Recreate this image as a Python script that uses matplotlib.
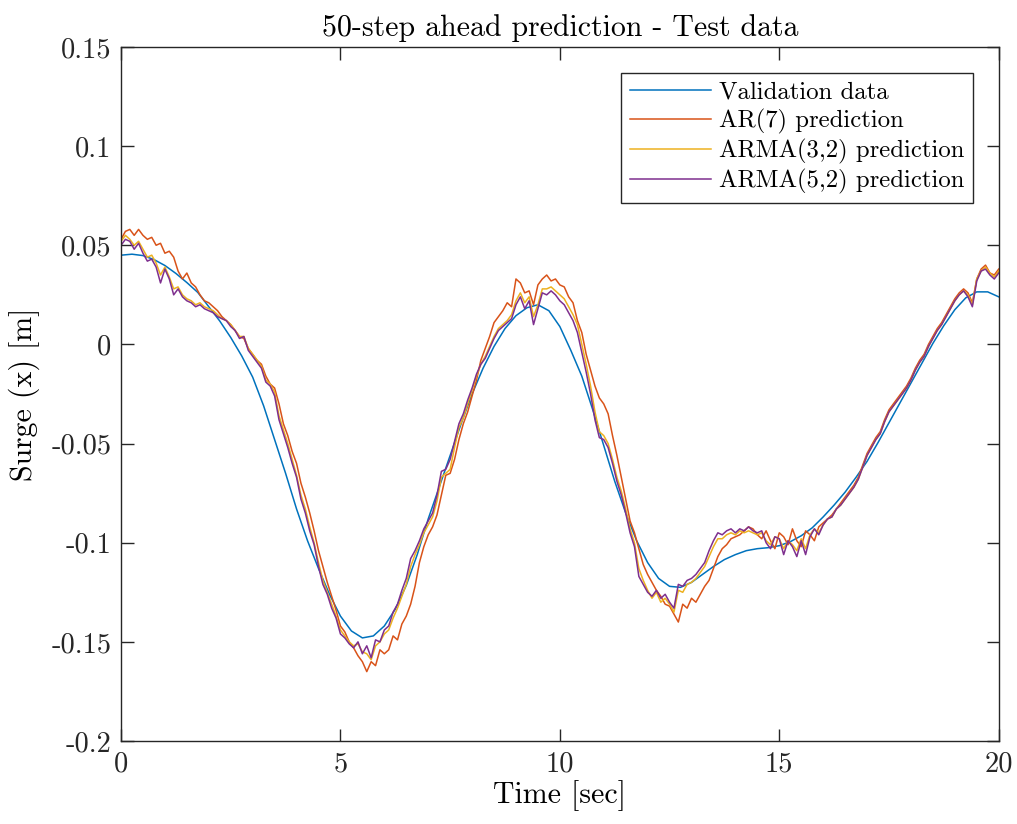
# 50-step ahead prediction plot

# Importing Python libraries

import numpy as np
import matplotlib.pyplot as plt

# Time axis for the validation data (0.25 s steps) and the predictions (0.1 s steps)

t_val = np.arange(0, 20.001, 0.25)
t_pred = np.arange(0, 20.001, 0.1)

# Validation data

validation = [
    0.0450, 0.0455, 0.0448, 0.0428, 0.0398, 0.0358, 0.0312, 0.0262, 0.0190, 0.0118,
    0.0035, -0.0058, -0.0165, -0.0310, -0.0480, -0.0650, -0.0830, -0.0990, -0.1130, -0.1260,
    -0.1370, -0.1445, -0.1480, -0.1470, -0.1420, -0.1335, -0.1215, -0.1060, -0.0880, -0.0720,
    -0.0560, -0.0400, -0.0250, -0.0120, -0.0010, 0.0080, 0.0145, 0.0185, 0.0200, 0.0170,
    0.0090, -0.0030, -0.0160, -0.0330, -0.0510, -0.0690, -0.0850, -0.0990, -0.1100, -0.1180,
    -0.1220, -0.1225, -0.1200, -0.1160, -0.1120, -0.1085, -0.1060, -0.1040, -0.1030, -0.1025,
    -0.1015, -0.0995, -0.0965, -0.0925, -0.0870, -0.0810, -0.0745, -0.0670, -0.0590, -0.0495,
    -0.0395, -0.0295, -0.0195, -0.0095, 0.0005, 0.0095, 0.0175, 0.0235, 0.0265, 0.0265,
    0.0240
]

# AR(7) prediction

ar7 = [
    0.053, 0.057, 0.058, 0.055, 0.058, 0.055, 0.053, 0.054, 0.050, 0.051,
    0.046, 0.047, 0.044, 0.037, 0.033, 0.036, 0.031, 0.029, 0.025, 0.022,
    0.021, 0.019, 0.017, 0.014, 0.012, 0.010, 0.007, 0.004, 0.003, -0.002,
    -0.005, -0.008, -0.010, -0.016, -0.020, -0.022, -0.030, -0.040, -0.046, -0.054,
    -0.060, -0.070, -0.077, -0.085, -0.094, -0.104, -0.112, -0.120, -0.127, -0.134,
    -0.142, -0.145, -0.150, -0.153, -0.157, -0.160, -0.165, -0.160, -0.162, -0.154,
    -0.156, -0.154, -0.147, -0.149, -0.141, -0.137, -0.131, -0.122, -0.110, -0.102,
    -0.096, -0.092, -0.086, -0.076, -0.066, -0.065, -0.058, -0.048, -0.040, -0.034,
    -0.026, -0.018, -0.008, -0.002, 0.004, 0.011, 0.014, 0.017, 0.021, 0.019,
    0.033, 0.031, 0.026, 0.027, 0.020, 0.030, 0.033, 0.035, 0.032, 0.033,
    0.030, 0.029, 0.024, 0.021, 0.012, 0.006, -0.005, -0.013, -0.021, -0.027,
    -0.030, -0.035, -0.046, -0.056, -0.067, -0.078, -0.089, -0.095, -0.103, -0.111,
    -0.116, -0.120, -0.124, -0.127, -0.131, -0.132, -0.136, -0.140, -0.131, -0.133,
    -0.128, -0.130, -0.126, -0.122, -0.119, -0.113, -0.107, -0.103, -0.101, -0.098,
    -0.097, -0.096, -0.094, -0.092, -0.093, -0.096, -0.098, -0.094, -0.099, -0.103,
    -0.095, -0.097, -0.101, -0.093, -0.099, -0.102, -0.094, -0.096, -0.099, -0.092,
    -0.090, -0.088, -0.086, -0.083, -0.080, -0.077, -0.074, -0.071, -0.067, -0.061,
    -0.055, -0.051, -0.047, -0.044, -0.038, -0.033, -0.030, -0.027, -0.024, -0.021,
    -0.017, -0.012, -0.008, -0.005, 0.000, 0.004, 0.008, 0.011, 0.015, 0.019,
    0.023, 0.026, 0.028, 0.026, 0.021, 0.033, 0.038, 0.040, 0.036, 0.035,
    0.038
]

# ARMA(3,2) prediction

arma32 = [
    0.052, 0.055, 0.053, 0.050, 0.052, 0.048, 0.044, 0.045, 0.041, 0.035,
    0.039, 0.034, 0.028, 0.029, 0.025, 0.023, 0.022, 0.020, 0.021, 0.019,
    0.018, 0.017, 0.015, 0.013, 0.012, 0.010, 0.007, 0.004, 0.004, -0.002,
    -0.005, -0.008, -0.011, -0.018, -0.020, -0.024, -0.036, -0.043, -0.050, -0.058,
    -0.066, -0.076, -0.083, -0.092, -0.100, -0.110, -0.119, -0.125, -0.131, -0.137,
    -0.144, -0.147, -0.150, -0.152, -0.151, -0.155, -0.156, -0.159, -0.152, -0.150,
    -0.146, -0.144, -0.138, -0.133, -0.127, -0.121, -0.112, -0.106, -0.101, -0.095,
    -0.091, -0.087, -0.079, -0.067, -0.065, -0.063, -0.052, -0.042, -0.037, -0.030,
    -0.023, -0.016, -0.010, -0.006, -0.001, 0.004, 0.008, 0.010, 0.012, 0.015,
    0.022, 0.026, 0.021, 0.024, 0.014, 0.020, 0.028, 0.028, 0.029, 0.027,
    0.025, 0.023, 0.019, 0.015, 0.010, 0.000, -0.010, -0.021, -0.034, -0.044,
    -0.046, -0.050, -0.058, -0.067, -0.074, -0.083, -0.093, -0.100, -0.113, -0.119,
    -0.124, -0.128, -0.125, -0.130, -0.128, -0.131, -0.135, -0.124, -0.125, -0.121,
    -0.120, -0.118, -0.115, -0.112, -0.107, -0.102, -0.098, -0.098, -0.096, -0.095,
    -0.096, -0.094, -0.095, -0.094, -0.095, -0.096, -0.095, -0.099, -0.101, -0.097,
    -0.098, -0.103, -0.099, -0.101, -0.104, -0.098, -0.103, -0.096, -0.093, -0.095,
    -0.091, -0.088, -0.087, -0.083, -0.081, -0.078, -0.075, -0.072, -0.068, -0.062,
    -0.056, -0.052, -0.048, -0.045, -0.039, -0.034, -0.031, -0.028, -0.025, -0.022,
    -0.018, -0.013, -0.009, -0.006, -0.001, 0.003, 0.007, 0.010, 0.014, 0.018,
    0.022, 0.025, 0.027, 0.025, 0.020, 0.033, 0.037, 0.039, 0.036, 0.034,
    0.037
]

# ARMA(5,2) prediction

arma52 = [
    0.050, 0.053, 0.052, 0.048, 0.051, 0.046, 0.042, 0.043, 0.039, 0.031,
    0.038, 0.033, 0.025, 0.028, 0.024, 0.022, 0.021, 0.019, 0.020, 0.018,
    0.017, 0.016, 0.014, 0.013, 0.012, 0.009, 0.007, 0.003, 0.004, -0.003,
    -0.006, -0.009, -0.012, -0.019, -0.021, -0.026, -0.038, -0.045, -0.052, -0.060,
    -0.067, -0.078, -0.085, -0.094, -0.101, -0.112, -0.121, -0.126, -0.133, -0.138,
    -0.146, -0.148, -0.151, -0.153, -0.150, -0.156, -0.152, -0.158, -0.149, -0.150,
    -0.144, -0.142, -0.135, -0.131, -0.124, -0.118, -0.108, -0.104, -0.099, -0.093,
    -0.089, -0.085, -0.076, -0.064, -0.063, -0.058, -0.049, -0.040, -0.035, -0.028,
    -0.022, -0.015, -0.010, -0.007, -0.002, 0.003, 0.007, 0.009, 0.011, 0.013,
    0.020, 0.024, 0.018, 0.022, 0.010, 0.018, 0.026, 0.025, 0.027, 0.025,
    0.022, 0.020, 0.016, 0.012, 0.006, -0.004, -0.014, -0.025, -0.038, -0.047,
    -0.048, -0.052, -0.060, -0.069, -0.076, -0.085, -0.095, -0.102, -0.117, -0.121,
    -0.125, -0.127, -0.124, -0.128, -0.126, -0.130, -0.133, -0.121, -0.122, -0.119,
    -0.118, -0.116, -0.113, -0.110, -0.104, -0.099, -0.095, -0.096, -0.094, -0.093,
    -0.095, -0.093, -0.094, -0.092, -0.094, -0.095, -0.094, -0.100, -0.103, -0.097,
    -0.098, -0.106, -0.099, -0.102, -0.107, -0.099, -0.106, -0.097, -0.093, -0.096,
    -0.091, -0.088, -0.087, -0.083, -0.081, -0.078, -0.075, -0.072, -0.068, -0.062,
    -0.056, -0.052, -0.048, -0.045, -0.039, -0.034, -0.031, -0.028, -0.025, -0.022,
    -0.018, -0.013, -0.009, -0.006, -0.001, 0.003, 0.007, 0.010, 0.014, 0.018,
    0.022, 0.025, 0.027, 0.024, 0.019, 0.032, 0.037, 0.038, 0.035, 0.033,
    0.036
]

# Tick labels in the MATLAB style

x_ticks = [0, 5, 10, 15, 20]
y_ticks = [-0.2, -0.15, -0.1, -0.05, 0, 0.05, 0.1, 0.15]
y_tick_labels = ['-0.2', '-0.15', '-0.1', '-0.05', '0', '0.05', '0.1', '0.15']

# LaTeX-like font

plt.rcParams['font.family'] = 'cmr10'
plt.rcParams['mathtext.fontset'] = 'cm'
plt.rcParams['axes.unicode_minus'] = False
plt.rcParams['axes.formatter.use_mathtext'] = True

# Plotting the graph

fig, ax = plt.subplots(figsize = (10.17, 8.24), dpi = 100)
fig.subplots_adjust(left = 0.119, right = 0.982, top = 0.943, bottom = 0.1007)

ax.plot(t_val, validation, color = '#0072BD', linewidth = 1.1, label = 'Validation data')
ax.plot(t_pred, ar7, color = '#D95319', linewidth = 1.1, label = 'AR(7) prediction')
ax.plot(t_pred, arma32, color = '#EDB120', linewidth = 1.1, label = 'ARMA(3,2) prediction')
ax.plot(t_pred, arma52, color = '#7E2F8E', linewidth = 1.1, label = 'ARMA(5,2) prediction')

# Axes formatting

ax.set_xlim(0, 20)
ax.set_ylim(-0.2, 0.15)
ax.set_xticks(x_ticks)
ax.set_xticklabels([str(x) for x in x_ticks])
ax.set_yticks(y_ticks)
ax.set_yticklabels(y_tick_labels)
ax.tick_params(direction = 'in', length = 9, width = 1, top = True, right = True,
               labelsize = 20.5, colors = '#262626', pad = 7)
for spine in ax.spines.values():
    spine.set_color('#262626')
    spine.set_linewidth(1)

# Labelling the graph

ax.set_title('50-step ahead prediction - Test data', fontsize = 21.5, color = 'black', pad = 8)
ax.set_xlabel('Time [sec]', fontsize = 21.5, color = 'black', labelpad = 2)
ax.set_ylabel('Surge (x) [m]', fontsize = 21.5, color = 'black', labelpad = 8)

leg = ax.legend(loc = 'upper right', bbox_to_anchor = (0.9704, 0.9625), fontsize = 17.8,
                fancybox = False, edgecolor = '#262626', framealpha = 1,
                handlelength = 3.3, handletextpad = 0.3, labelspacing = 0.2,
                borderpad = 0.35, borderaxespad = 0)
leg.get_frame().set_linewidth(1)

plt.savefig('out.png', dpi = 100)
